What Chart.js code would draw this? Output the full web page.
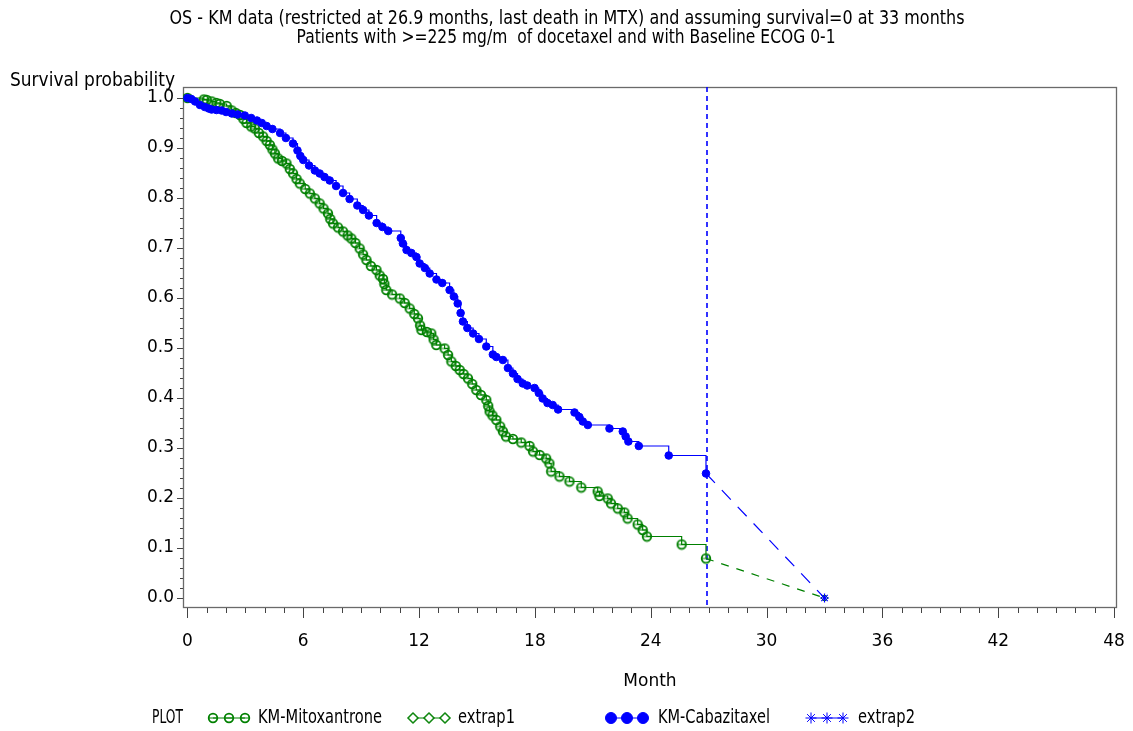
<!DOCTYPE html>
<html>
<head>
<meta charset="utf-8">
<script src="https://cdn.jsdelivr.net/npm/chart.js@4.4.0/dist/chart.umd.min.js"></script>
<style>
  html, body { margin: 0; padding: 0; background: #fff; }
  #wrap { width: 1133px; height: 731px; }
</style>
</head>
<body>
<div id="wrap"><canvas id="kmChart" width="1133" height="731"></canvas></div>
<script>
const titleLines = [
    'OS - KM data (restricted at 26.9 months, last death in MTX) and assuming survival=0 at 33 months',
    'Patients with >=225 mg/m  of docetaxel and with Baseline ECOG 0-1'
];
const yAxisLabel = 'Survival probability';
const xAxisLabel = 'Month';
const xTicks = [0, 6, 12, 18, 24, 30, 36, 42, 48];
const yTicks = [0, 0.1, 0.2, 0.3, 0.4, 0.5, 0.6, 0.7, 0.8, 0.9, 1.0];
const refMonth = 26.9;

// KM-Cabazitaxel
const cabaMonths = [0, 0.2, 0.4, 0.65, 0.9, 1.1, 1.25, 1.5, 1.77, 2.0, 2.3, 2.6, 2.97, 3.3, 3.6, 3.85, 4.1, 4.4, 4.8,
    5.1, 5.47, 5.7, 5.85, 6.0, 6.3, 6.6, 6.85, 7.1, 7.37, 7.7, 8.06, 8.4, 8.8, 9.1, 9.4, 9.8, 10.1, 10.4, 11.05, 11.16,
    11.35, 11.6, 11.86, 12.03, 12.3, 12.55, 12.9, 13.2, 13.58, 13.8, 14.0, 14.15, 14.27, 14.5, 14.8, 15.1, 15.48, 15.82,
    16.0, 16.34, 16.6, 16.86, 17.1, 17.37, 17.6, 17.98, 18.2, 18.4, 18.65, 18.92, 19.2, 20.05, 20.3, 20.48, 20.74, 21.86,
    22.55, 22.7, 22.84, 23.38, 24.93, 26.86];
const cabaSurv = [1.0, 0.998, 0.993, 0.986, 0.982, 0.979, 0.977, 0.976, 0.975, 0.972, 0.969, 0.967, 0.965, 0.96, 0.955, 0.95, 0.944, 0.938, 0.93,
    0.92, 0.909, 0.895, 0.884, 0.876, 0.865, 0.855, 0.849, 0.842, 0.835, 0.824, 0.81, 0.798, 0.785, 0.776, 0.765, 0.75, 0.742, 0.734, 0.72, 0.709,
    0.696, 0.69, 0.682, 0.669, 0.66, 0.649, 0.637, 0.63, 0.616, 0.603, 0.589, 0.57, 0.553, 0.54, 0.529, 0.518, 0.503, 0.487,
    0.482, 0.476, 0.46, 0.449, 0.438, 0.429, 0.425, 0.42, 0.41, 0.399, 0.39, 0.386, 0.377, 0.371, 0.362, 0.353, 0.346, 0.339,
    0.333, 0.323, 0.313, 0.304, 0.285, 0.249];

// KM-Mitoxantrone
const mitoMonths = [0, 0.85, 1.0, 1.25, 1.5, 1.68, 2.03, 2.29, 2.5, 2.72, 2.9, 3.06, 3.3, 3.49, 3.7, 3.92, 4.1, 4.27, 4.4, 4.53,
    4.7, 4.9, 5.13, 5.3, 5.47, 5.65, 5.82, 6.1, 6.34, 6.6, 6.85, 7.05, 7.28, 7.4, 7.54, 7.8, 8.06, 8.3, 8.49, 8.7, 8.92,
    9.1, 9.27, 9.5, 9.79, 9.96, 10.13, 10.2, 10.3, 10.6, 11.0, 11.25, 11.51, 11.75, 11.94, 12.05, 12.12, 12.4, 12.63, 12.75,
    12.89, 13.32, 13.5, 13.67, 13.9, 14.1, 14.3, 14.53, 14.75, 14.96, 15.2, 15.48, 15.58, 15.65, 15.8, 16.0, 16.2, 16.34,
    16.5, 16.86, 17.29, 17.72, 17.9, 18.24, 18.58, 18.75, 18.84, 19.27, 19.79, 20.4, 21.25, 21.34, 21.77, 21.94, 22.29,
    22.63, 22.8, 23.32, 23.58, 23.8, 25.6, 26.86];
const mitoSurv = [1.0, 0.997, 0.996, 0.993, 0.99, 0.988, 0.984, 0.975, 0.97, 0.966, 0.958, 0.95, 0.943, 0.939, 0.93, 0.923, 0.914, 0.906, 0.897, 0.889,
    0.879, 0.874, 0.869, 0.858, 0.849, 0.838, 0.829, 0.818, 0.809, 0.799, 0.789, 0.779, 0.769, 0.758, 0.749, 0.741, 0.733, 0.725, 0.719, 0.71, 0.699,
    0.687, 0.676, 0.664, 0.656, 0.645, 0.638, 0.628, 0.616, 0.607, 0.599, 0.59, 0.579, 0.568, 0.559, 0.545, 0.536, 0.532, 0.529, 0.517,
    0.506, 0.499, 0.486, 0.473, 0.464, 0.456, 0.448, 0.439, 0.428, 0.416, 0.406, 0.396, 0.384, 0.373, 0.365, 0.356, 0.343, 0.333,
    0.323, 0.318, 0.311, 0.304, 0.293, 0.286, 0.279, 0.269, 0.253, 0.243, 0.233, 0.221, 0.213, 0.204, 0.199, 0.189, 0.179,
    0.171, 0.159, 0.147, 0.136, 0.123, 0.107, 0.079];

// extrapolation to survival = 0 at 33 months
const extrap1Months = [26.86, 33];
const extrap1Surv = [0.079, 0];
const extrap2Months = [26.86, 33];
const extrap2Surv = [0.249, 0];

const GREEN = '#008000';
const BLUE = '#0000ff';
const FONT = '"DejaVu Sans", sans-serif';

function toPoints(xs, ys) {
    return xs.map((m, i) => ({ x: m, y: ys[i] }));
}

// circle with bar (theta) marker used by SAS for the Mitoxantrone curve
function makeTheta(color) {
    const c = document.createElement('canvas');
    c.width = 12; c.height = 12;
    const g = c.getContext('2d');
    g.strokeStyle = color;
    g.lineWidth = 1.8;
    g.beginPath();
    g.arc(6, 6, 4.3, 0, Math.PI * 2);
    g.stroke();
    g.lineWidth = 1;
    g.beginPath();
    g.moveTo(2, 6); g.lineTo(10, 6);
    g.stroke();
    return c;
}
const thetaMark = makeTheta(GREEN);

// draws text squeezed/stretched to a given width (the SAS font is tall and narrow)
function fitText(ctx, text, x, y, width, size, align) {
    ctx.font = size + 'px ' + FONT;
    const w = ctx.measureText(text).width;
    const sx = width / w;
    ctx.save();
    ctx.translate(x, y);
    ctx.scale(sx, 1);
    ctx.textAlign = align;
    ctx.textBaseline = 'middle';
    ctx.fillText(text, 0, 0);
    ctx.restore();
}

const sasDecor = {
    id: 'sasDecor',
    beforeDatasetsDraw(chart) {
        const { ctx, chartArea: a, scales: { x, y } } = chart;
        ctx.save();
        ctx.strokeStyle = '#6a6a6a';
        ctx.lineWidth = 1.3;
        ctx.strokeRect(a.left + 0.5, a.top + 0.5, a.width - 1, a.height - 1);

        // x ticks: minor every month, major every 6
        ctx.lineWidth = 1;
        ctx.strokeStyle = '#444';
        ctx.beginPath();
        for (let m = 0; m <= 48; m++) {
            const px = Math.round(x.getPixelForValue(m)) + 0.5;
            const len = m % 6 === 0 ? 10 : 5;
            ctx.moveTo(px, a.bottom);
            ctx.lineTo(px, a.bottom + len);
        }
        // y ticks: minor every 0.02
        for (let i = 0; i <= 50; i++) {
            const py = Math.round(y.getPixelForValue(i / 50)) + 0.5;
            const len = i % 5 === 0 ? 6 : 3;
            ctx.moveTo(a.left - len, py);
            ctx.lineTo(a.left, py);
        }
        ctx.stroke();

        // reference line at last death
        const rx = Math.round(x.getPixelForValue(refMonth));
        ctx.strokeStyle = BLUE;
        ctx.lineWidth = 1.6;
        ctx.setLineDash([5, 4]);
        ctx.beginPath();
        ctx.moveTo(rx, a.top);
        ctx.lineTo(rx, a.bottom);
        ctx.stroke();
        ctx.restore();
    },
    afterDraw(chart) {
        const { ctx } = chart;
        ctx.save();
        ctx.fillStyle = '#000';
        fitText(ctx, titleLines[0], 567, 19, 795, 19, 'center');
        fitText(ctx, titleLines[1], 566, 38, 539, 19, 'center');
        fitText(ctx, yAxisLabel, 10, 81, 165, 19, 'left');

        // legend
        const ly = 718;
        fitText(ctx, 'PLOT', 152, ly, 31, 19, 'left');
        const items = [
            { ds: 1, x0: 213, tx: 258, tw: 124 },
            { ds: 3, x0: 413, tx: 458, tw: 57 },
            { ds: 0, x0: 611, tx: 658, tw: 112 },
            { ds: 2, x0: 811, tx: 858, tw: 57 }
        ];
        items.forEach(it => {
            const d = chart.data.datasets[it.ds];
            ctx.strokeStyle = d.borderColor;
            ctx.fillStyle = d.borderColor;
            ctx.lineWidth = 1;
            ctx.setLineDash([]);
            ctx.beginPath();
            ctx.moveTo(it.x0, ly);
            ctx.lineTo(it.x0 + 32, ly);
            ctx.stroke();
            for (let k = 0; k < 3; k++) {
                const cx = it.x0 + k * 16;
                if (d.legendStyle === 'theta') {
                    ctx.drawImage(thetaMark, cx - 6, ly - 6);
                } else {
                    Chart.helpers.drawPoint(ctx, {
                        pointStyle: d.legendStyle, radius: 5.5, rotation: 0, borderWidth: 1.2
                    }, cx, ly);
                    if (d.legendStyle === 'rectRot') {
                        ctx.fillStyle = '#fff';
                        Chart.helpers.drawPoint(ctx, { pointStyle: 'rectRot', radius: 4, rotation: 0, borderWidth: 0 }, cx, ly);
                        ctx.fillStyle = d.borderColor;
                    }
                }
            }
            ctx.fillStyle = '#000';
            fitText(ctx, d.label, it.tx, ly, it.tw, 19, 'left');
        });
        ctx.restore();
    }
};

const ctx = document.getElementById('kmChart').getContext('2d');

new Chart(ctx, {
    type: 'scatter',
    data: {
        datasets: [
            {
                label: 'KM-Cabazitaxel',
                data: toPoints(cabaMonths, cabaSurv),
                showLine: true,
                stepped: 'before',
                borderColor: BLUE,
                borderWidth: 1.2,
                pointStyle: 'circle',
                pointRadius: 3.8,
                pointBackgroundColor: BLUE,
                pointBorderColor: BLUE,
                pointBorderWidth: 1,
                legendStyle: 'circle'
            },
            {
                label: 'KM-Mitoxantrone',
                data: toPoints(mitoMonths, mitoSurv),
                showLine: true,
                stepped: 'before',
                borderColor: GREEN,
                borderWidth: 1.2,
                pointStyle: thetaMark,
                pointRadius: 4,
                legendStyle: 'theta'
            },
            {
                label: 'extrap2',
                data: toPoints(extrap2Months, extrap2Surv),
                showLine: true,
                borderColor: BLUE,
                borderWidth: 1.2,
                borderDash: [13, 10],
                pointStyle: 'star',
                pointRadius: [0, 4.5],
                pointBorderColor: BLUE,
                pointBorderWidth: 1.2,
                legendStyle: 'star'
            },
            {
                label: 'extrap1',
                data: toPoints(extrap1Months, extrap1Surv),
                showLine: true,
                borderColor: GREEN,
                borderWidth: 1.2,
                borderDash: [8, 8],
                pointStyle: 'rectRot',
                pointRadius: [0, 3.5],
                pointBackgroundColor: '#fff',
                pointBorderColor: GREEN,
                pointBorderWidth: 1,
                legendStyle: 'rectRot'
            }
        ]
    },
    options: {
        responsive: false,
        animation: false,
        events: [],
        layout: { padding: { left: 0, top: 87, right: 16, bottom: 0 } },
        plugins: {
            legend: { display: false },
            title: { display: false },
            tooltip: { enabled: false }
        },
        scales: {
            x: {
                type: 'linear',
                min: -0.23,
                max: 48.15,
                grid: { display: false, drawTicks: false },
                border: { display: false },
                afterBuildTicks: s => { s.ticks = xTicks.map(v => ({ value: v })); },
                afterFit: s => { s.height = 123; s.paddingLeft = 0; s.paddingRight = 0; },
                ticks: {
                    color: '#000',
                    padding: 23,
                    maxRotation: 0,
                    font: { family: FONT, size: 17 },
                    callback: v => String(v)
                },
                title: {
                    display: true,
                    text: xAxisLabel,
                    color: '#000',
                    font: { family: FONT, size: 17 },
                    padding: { top: 0, bottom: 39 }
                }
            },
            y: {
                type: 'linear',
                min: -0.02,
                max: 1.022,
                grid: { display: false, drawTicks: false },
                border: { display: false },
                afterBuildTicks: s => { s.ticks = yTicks.map(v => ({ value: v })); },
                afterFit: s => { s.width = 183; s.paddingTop = 0; s.paddingBottom = 0; },
                ticks: {
                    color: '#000',
                    padding: 9,
                    font: { family: FONT, size: 17 },
                    callback: v => v.toFixed(1)
                }
            }
        }
    },
    plugins: [sasDecor]
});
</script>
</body>
</html>
